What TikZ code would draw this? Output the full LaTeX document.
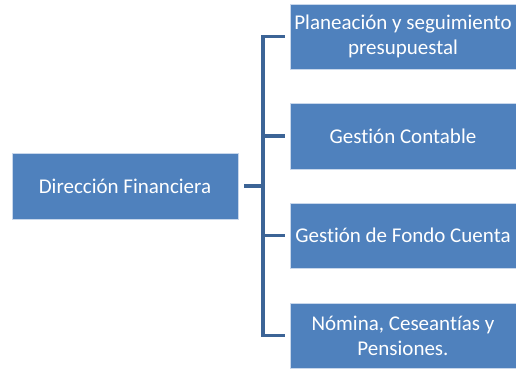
\documentclass[tikz,border=0pt]{standalone}
\usepackage{fontspec}
\setmainfont{Carlito}[Ligatures=NoCommon]
\newcommand{\nl}{\kern0pt }
\definecolor{boxfill}{RGB}{79,129,189}
\definecolor{boxedge}{RGB}{200,215,235}
\definecolor{linecol}{RGB}{60,100,150}
\begin{document}
\begin{tikzpicture}[x=1pt,y=-1pt,
  orgbox/.style={draw=boxedge,line width=0.8pt,fill=boxfill,text=white,font=\fontsize{21}{25}\selectfont,align=center,inner sep=0pt},
  link/.style={draw=linecol,line width=3.5pt}]
\useasboundingbox (0,0) rectangle (516,369);
\node[orgbox,minimum width=226,minimum height=66] (root) at (125,186) {Dirección Financiera};
\node[orgbox,minimum width=226,minimum height=65] (a) at (403,36.5) {Planeación y seguimiento\\presupuestal};
\node[orgbox,minimum width=226,minimum height=66] (b) at (403,136) {Gest\nl ión Contable};
\node[orgbox,minimum width=226,minimum height=65] (c) at (403,235.5) {Gest\nl ión de Fondo Cuenta};
\node[orgbox,minimum width=226,minimum height=65] (d) at (403,335.5) {Nómina, Ceseant\nl ías y\\Pensiones.};
\coordinate (j) at (263,186);
\draw[link] ([xshift=6pt]root.east) -- (j);
\draw[link,line cap=butt] ([xshift=-5pt]a.west) -| (j |- d.west) -- ([xshift=-5pt]d.west);
\draw[link] (j |- b.west) -- ([xshift=-5pt]b.west);
\draw[link] (j |- c.west) -- ([xshift=-5pt]c.west);
\end{tikzpicture}
\end{document}
